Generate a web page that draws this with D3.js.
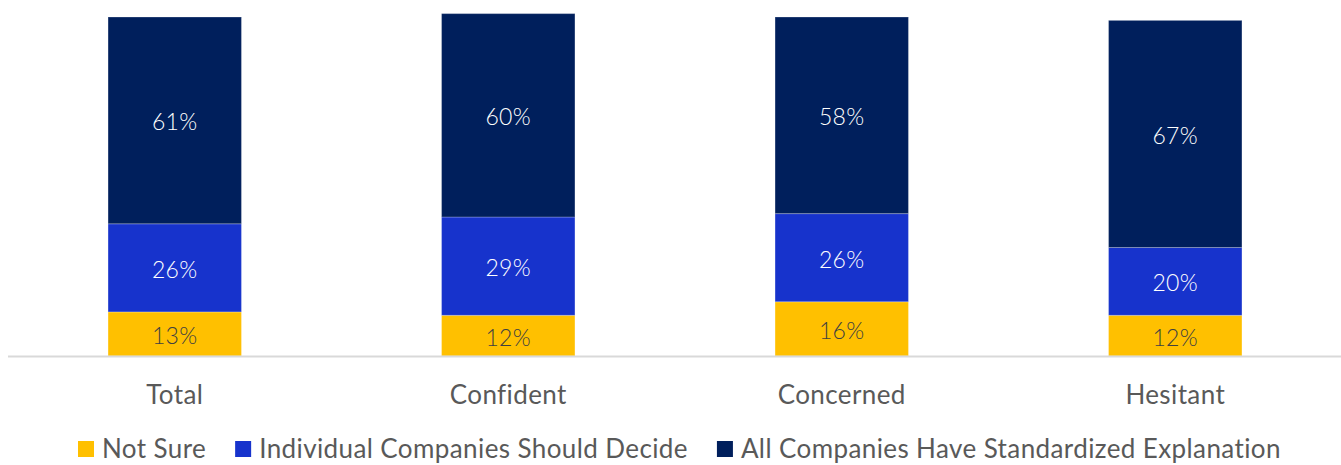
<!DOCTYPE html>
<html>
<head>
<meta charset="utf-8">
<script src="https://cdn.jsdelivr.net/npm/d3@7"></script>
<style>
  html, body { margin: 0; padding: 0; background: #fff; }
  svg { display: block; font-family: Lato, "Open Sans", sans-serif; }
</style>
</head>
<body>
<svg id="chart" width="1341" height="465"></svg>
<script>
// Survey groups along the x axis
const categories = ["Total", "Confident", "Concerned", "Hesitant"];

// Stacked series, bottom to top (percent of respondents)
const seriesNames = [
  "Not Sure",
  "Individual Companies Should Decide",
  "All Companies Have Standardized Explanation"
];
const notSure = [13, 12, 16, 12];
const individualDecide = [26, 29, 26, 20];
const allStandardized = [61, 60, 58, 67];

const seriesColors = ["#FFC000", "#1733CC", "#001F5C"];
const labelColors = ["#404040", "#FFFFFF", "#FFFFFF"];

const width = 1341, height = 465;
const baseY = 356, topY = 17;

const svg = d3.select("#chart");

const rows = categories.map((c, i) => ({
  category: c,
  "Not Sure": notSure[i],
  "Individual Companies Should Decide": individualDecide[i],
  "All Companies Have Standardized Explanation": allStandardized[i]
}));

const stacked = d3.stack().keys(seriesNames)(rows);

const x = d3.scaleBand()
  .domain(categories)
  .range([8, 1342])
  .paddingInner(0.6)
  .paddingOuter(0.3);

const y = d3.scaleLinear().domain([0, 100]).range([baseY, topY]);

// Bars
const layers = svg.append("g").selectAll("g")
  .data(stacked)
  .join("g")
  .attr("fill", (d, i) => seriesColors[i]);

layers.selectAll("rect")
  .data(d => d.map(v => ({ v, key: d.key })))
  .join("rect")
  .attr("x", d => x(d.v.data.category))
  .attr("width", x.bandwidth())
  .attr("y", d => y(d.v[1]))
  .attr("height", d => y(d.v[0]) - y(d.v[1]))
  .attr("stroke", "rgba(255,255,255,0.25)")
  .attr("stroke-width", 1);

// Value labels centred in each segment
stacked.forEach((layer, i) => {
  svg.append("g").selectAll("text")
    .data(layer)
    .join("text")
    .attr("x", d => x(d.data.category) + x.bandwidth() / 2)
    .attr("y", d => (y(d[0]) + y(d[1])) / 2 + 2)
    .attr("dy", "0.35em")
    .attr("text-anchor", "middle")
    .attr("font-size", 23)
    .attr("font-weight", 300)
    .attr("letter-spacing", 0.3)
    .attr("fill", labelColors[i])
    .text(d => (d[1] - d[0]) + "%");
});

// Category axis
const xAxis = svg.append("g")
  .attr("transform", `translate(0,${baseY})`)
  .call(d3.axisBottom(x).tickSize(0).tickPadding(30));
xAxis.select(".domain")
  .attr("d", `M8,0.5H${width}`)
  .attr("stroke", "#D9D9D9")
  .attr("stroke-width", 2);
xAxis.selectAll("text")
  .attr("font-family", "Lato, 'Open Sans', sans-serif")
  .attr("font-size", 26)
  .attr("letter-spacing", 0.4)
  .attr("fill", "#595959");

// Legend
const legend = svg.append("g");
const items = legend.selectAll("g")
  .data(seriesNames)
  .join("g");
items.append("rect")
  .attr("width", 16).attr("height", 16)
  .attr("y", -8)
  .attr("fill", (d, i) => seriesColors[i]);
items.append("text")
  .attr("x", 24)
  .attr("dy", "0.35em")
  .attr("font-size", 26)
  .attr("letter-spacing", 0.4)
  .attr("fill", "#595959")
  .text(d => d);

let offset = 0;
const offsets = [];
items.each(function () {
  offsets.push(offset);
  offset += this.getBBox().width + 29;
});
items.attr("transform", (d, i) => `translate(${78 + offsets[i]},449)`);
</script>
</body>
</html>
